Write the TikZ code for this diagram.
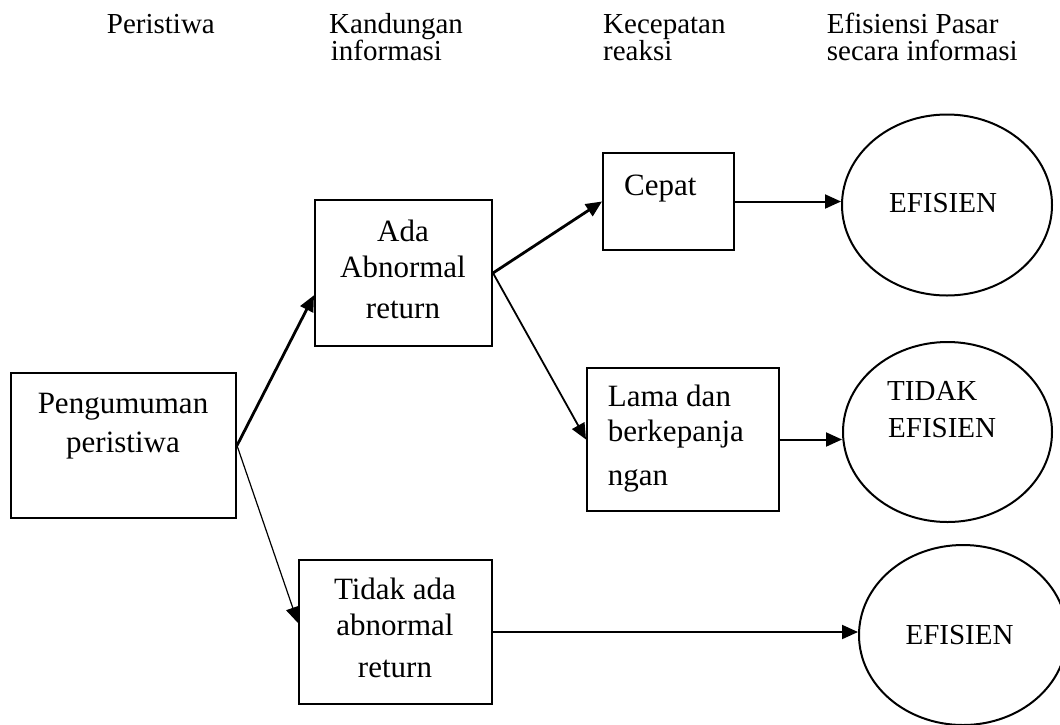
\documentclass[tikz,border=0pt]{standalone}
\usepackage{fontspec}
\setmainfont{Liberation Serif}
\usetikzlibrary{shapes.geometric,arrows.meta,calc}
\begin{document}
\begin{tikzpicture}[x=1pt,y=-1pt,
  box/.style={draw,line width=2pt,rectangle,inner sep=0pt},
  oval/.style={draw,line width=2pt,ellipse,inner sep=0pt},
  txt/.style={anchor=base,inner sep=0pt,font=\fontsize{31}{37}\selectfont},
  hdr/.style={anchor=base west,inner sep=0pt,font=\fontsize{29}{30}\selectfont},
  etxt/.style={anchor=base,inner sep=0pt,font=\fontsize{29}{35}\selectfont},
  arr/.style={-{Triangle[length=16pt,width=14pt]},line width=2pt},
]
\useasboundingbox (0,0) rectangle (1060,724);
\clip (0,0) rectangle (1060,724);

% headers
\node[hdr] (h1) at (106.7,33) {Peristiwa};
\node[hdr] (h2a) at (329,33) {Kandungan};
\node[hdr] (h2b) at (330.7,60.5) {informasi};
\node[hdr] (h3a) at (603,33) {Kecepatan};
\node[hdr] (h3b) at (603,60.5) {reaksi};
\node[hdr] (h4a) at (826.7,33) {Efisiensi Pasar};
\node[hdr] (h4b) at (826.7,60.5) {secara informasi};

% boxes
\node[box,minimum width=225pt,minimum height=145pt] (peng) at (123.5,445.5) {};
\node[box,minimum width=177pt,minimum height=146pt] (ada) at (403.5,273) {};
\node[box,minimum width=131pt,minimum height=97pt] (cepat) at (668.5,201.5) {};
\node[box,minimum width=192pt,minimum height=143pt] (lama) at (683,439.5) {};
\node[box,minimum width=193pt,minimum height=144pt] (tidak) at (395.5,632) {};

% ellipses
\node[oval,minimum width=210pt,minimum height=181pt] (eff1) at (947,205) {};
\node[oval,minimum width=209pt,minimum height=180pt] (eff2) at (947.5,432) {};
\node[oval,minimum width=208pt,minimum height=180pt] (eff3) at (963,635) {};

% box texts
\node[txt] (tpeng1) at (123,413) {Pengumuman};
\node[txt] (tpeng2) at (123,452) {peristiwa};
\node[txt] (tada1) at (403,241) {Ada};
\node[txt] (tada2) at (403,277) {Abnormal};
\node[txt] (tada3) at (403,318.5) {return};
\node[txt,anchor=base west] (tcepat) at (624,195) {Cepat};
\node[txt,anchor=base west] (tlama1) at (607.7,406.7) {Lama dan};
\node[txt,anchor=base west] (tlama2) at (607.7,441.7) {berkepanja};
\node[txt,anchor=base west] (tlama3) at (607.7,485) {ngan};
\node[txt] (ttidak1) at (395,599) {Tidak ada};
\node[txt] (ttidak2) at (395,635) {abnormal};
\node[txt] (ttidak3) at (395,677) {return};

% ellipse texts
\node[etxt] (teff1) at (943,212.7) {EFISIEN};
\node[etxt,anchor=base west] (teff2a) at (887,400) {TIDAK};
\node[etxt,anchor=base west] (teff2b) at (888,437.3) {EFISIEN};
\node[etxt] (teff3) at (959.5,644) {EFISIEN};

% connectors
\draw[arr,line width=2.8pt] (peng.east) -- ($(ada.south west)!0.35!(ada.north west)$);
\draw[arr,line width=1.2pt] (peng.east) -- ($(tidak.west)+(0,-9)$);
\draw[arr,line width=2.8pt] (ada.east) -- (cepat.west);
\draw[arr,line width=1.8pt] (ada.east) -- (lama.west);
\draw[arr] (cepat.east) -- (cepat.east -| eff1.west);
\draw[arr] (lama.east) -- (lama.east -| eff2.west);
\draw[arr] (tidak.east) -- (tidak.east -| eff3.west);
\end{tikzpicture}
\end{document}
